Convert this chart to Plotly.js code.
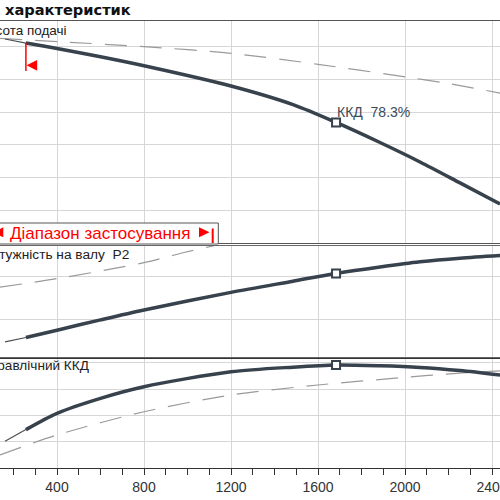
<!DOCTYPE html>
<html>
<head>
<meta charset="utf-8">
<script src="https://cdn.plot.ly/plotly-3.0.1.min.js"></script>
<style>html,body{margin:0;padding:0;background:#fff;}#chart{width:500px;height:500px;}</style>
</head>
<body>
<div id="chart"></div>
<script>
// ---- data ----
const qPump     = [161, 257, 400, 600, 800, 1200, 1485, 1683, 1885, 2069, 2253, 2437];
const headPump  = [12.49, 12.24, 11.91, 11.40, 10.85, 9.61, 8.47, 7.38, 6.15, 4.96, 3.68, 2.39];
const powerPump = [0.147, 0.157, 0.174, 0.198, 0.221, 0.262, 0.288, 0.306, 0.321, 0.333, 0.3415, 0.3477];
const etaPump   = [20.3, 29.2, 41.6, 53.0, 61.8, 73.2, 76.7, 78.3, 77.7, 76.5, 74.1, 70.7];

const qHeadRef  = [138, 414, 800, 1200, 1600, 2005, 2192, 2437];
const headRef   = [12.53, 12.32, 12.02, 11.61, 10.94, 10.16, 9.78, 9.18];
const qPowerRef = [138, 400, 800, 979, 1149, 1300];
const powerRef  = [0.274, 0.294, 0.331, 0.354, 0.374, 0.395];
const qEtaRef   = [138, 400, 800, 1200, 1600, 2005, 2238, 2437];
const etaRef    = [9.9, 25.1, 42.8, 55.5, 63.1, 69.0, 72.0, 73.8];

const rangeStart = 257;   // start of application range
const bepIndex = 7;       // best efficiency point
const xTickVals = [400, 800, 1200, 1600, 2000, 2400];

const titleText = 'характеристик';
const headLabel = 'Висота подачі';
const powerLabel = 'Потужність на валу&nbsp;&nbsp;P2';
const etaLabel = 'Гідравлічний ККД';
const rangeLabel = 'Діапазон застосування';

// ---- layout helpers ----
const W = 500, H = 500, MB = 32, PH = H - MB;
const xRange = [137.93, 2436.78];
const px = v => v / W;
const py = v => (PH - v) / PH;
const dark = '#37424d';
const red = '#ff0000';
const grid = '#d6d6d6';
const font = 'Liberation Sans, Arial, sans-serif';

function split(q, v) {
  const thin = {x: [], y: []}, thick = {x: [], y: []};
  q.forEach((qq, i) => {
    if (qq <= rangeStart) { thin.x.push(qq); thin.y.push(v[i]); }
    if (qq >= rangeStart) { thick.x.push(qq); thick.y.push(v[i]); }
  });
  return [thin, thick];
}

const traces = [];
function addPanel(xa, ya, q, v, qr, vr) {
  traces.push({x: qr, y: vr, xaxis: xa, yaxis: ya, mode: 'lines', hoverinfo: 'skip',
    line: {color: '#9a9a9a', width: 1.2, dash: '22px,13px', shape: 'spline', smoothing: 0.8}});
  const [thin, thick] = split(q, v);
  traces.push({x: thin.x, y: thin.y, xaxis: xa, yaxis: ya, mode: 'lines',
    line: {color: '#4a4f55', width: 1.2}});
  traces.push({x: thick.x, y: thick.y, xaxis: xa, yaxis: ya, mode: 'lines',
    line: {color: dark, width: 3.5, shape: 'spline', smoothing: 0.8}});
  traces.push({x: [q[bepIndex]], y: [v[bepIndex]], xaxis: xa, yaxis: ya, mode: 'markers',
    marker: {symbol: 'square', size: 8, color: '#fff', line: {color: dark, width: 2}}});
}
addPanel('x3', 'y', qPump, headPump, qHeadRef, headRef);
addPanel('x2', 'y2', qPump, powerPump, qPowerRef, powerRef);
addPanel('x', 'y3', qPump, etaPump, qEtaRef, etaRef);

const xCommon = {range: xRange, showgrid: true, gridcolor: grid, gridwidth: 1,
  tickmode: 'array', tickvals: xTickVals, zeroline: false,
  showline: true, mirror: true, linecolor: '#666', linewidth: 1};
const yCommon = {showticklabels: false, ticks: '', showgrid: true, gridcolor: grid,
  zeroline: false, showline: false, fixedrange: true};

const rsPx = (rangeStart - xRange[0]) / (xRange[1] - xRange[0]) * W;

const layout = {
  width: W, height: H, margin: {l: 0, r: 0, t: 0, b: MB},
  paper_bgcolor: '#fff', plot_bgcolor: '#fff', showlegend: false,
  xaxis: Object.assign({}, xCommon, {anchor: 'y3', ticks: 'outside', ticklen: 6, tickcolor: '#333',
    linecolor: '#333', ticklabeloverflow: 'allow',
    tickfont: {family: font, size: 14, color: '#333'},
    minor: {dtick: 100, tick0: 0, ticks: 'outside', ticklen: 6, tickcolor: '#333', showgrid: false}}),
  xaxis2: Object.assign({}, xCommon, {anchor: 'y2', matches: 'x', showticklabels: false, ticks: ''}),
  xaxis3: Object.assign({}, xCommon, {anchor: 'y', matches: 'x', showticklabels: false, ticks: '',
    linecolor: '#555', linewidth: 1.3}),
  yaxis: Object.assign({}, yCommon, {domain: [py(243), py(21)], range: [0, 13.59], dtick: 2}),
  yaxis2: Object.assign({}, yCommon, {domain: [py(356.5), py(246)], range: [0.1128, 0.3698], dtick: 0.1, tick0: 0}),
  yaxis3: Object.assign({}, yCommon, {domain: [0, py(358.5)], range: [0, 83.27], dtick: 20}),
  shapes: [
    // application range box
    {type: 'rect', xref: 'paper', yref: 'paper', x0: -0.1, x1: px(218.3), y0: py(244), y1: py(223),
      line: {color: '#555', width: 1}, fillcolor: '#fff', layer: 'above'},
    {type: 'path', xref: 'paper', yref: 'paper', layer: 'above', fillcolor: red, line: {width: 0},
      path: `M ${px(3.3)},${py(227.3)} L ${px(-7)},${py(232.3)} L ${px(3.3)},${py(237.3)} Z`},
    {type: 'path', xref: 'paper', yref: 'paper', layer: 'above', fillcolor: red, line: {width: 0},
      path: `M ${px(199)},${py(227.3)} L ${px(209.5)},${py(232.3)} L ${px(199)},${py(237.3)} Z`},
    {type: 'line', xref: 'paper', yref: 'paper', layer: 'above', x0: px(212.7), x1: px(212.7),
      y0: py(228.5), y1: py(243), line: {color: red, width: 2}},
    // application range start marker on head curve
    {type: 'line', xref: 'paper', yref: 'paper', layer: 'above', x0: px(rsPx), x1: px(rsPx),
      y0: py(43), y1: py(71), line: {color: red, width: 1.5}},
    {type: 'path', xref: 'paper', yref: 'paper', layer: 'above', fillcolor: red, line: {width: 0},
      path: `M ${px(rsPx + 0.7)},${py(65.3)} L ${px(rsPx + 11.3)},${py(60)} L ${px(rsPx + 11.3)},${py(70.7)} Z`}
  ],
  annotations: [
    {xref: 'paper', yref: 'paper', x: px(3), y: py(9), xanchor: 'left', yanchor: 'middle', showarrow: false,
      text: '<b>' + titleText + '</b>', font: {family: 'DejaVu Sans, Verdana, sans-serif', size: 14.6, color: '#111'}},
    {xref: 'paper', yref: 'paper', x: px(69), y: py(31), xanchor: 'right', yanchor: 'middle', showarrow: false,
      text: headLabel, font: {family: font, size: 13.5, color: '#222'}},
    {xref: 'paper', yref: 'paper', x: px(131), y: py(254), xanchor: 'right', yanchor: 'middle', showarrow: false,
      text: powerLabel, font: {family: font, size: 13.7, color: '#222'}},
    {xref: 'paper', yref: 'paper', x: px(91), y: py(365), xanchor: 'right', yanchor: 'middle', showarrow: false,
      text: etaLabel, font: {family: font, size: 13.6, color: '#222'}},
    {xref: 'paper', yref: 'paper', x: px(8), y: py(233), xanchor: 'left', yanchor: 'middle', showarrow: false,
      text: rangeLabel, font: {family: font, size: 17, color: red}},
    {xref: 'x3', yref: 'y', x: qPump[bepIndex], y: headPump[bepIndex], xanchor: 'left', yanchor: 'middle',
      yshift: 10.5, xshift: -1, showarrow: false,
      text: 'ККД&nbsp;&nbsp;' + etaPump[bepIndex].toFixed(1) + '%', font: {family: font, size: 14, color: '#3d4a57'}}
  ]
};

Plotly.newPlot('chart', traces, layout, {staticPlot: true, displayModeBar: false});
</script>
</body>
</html>
